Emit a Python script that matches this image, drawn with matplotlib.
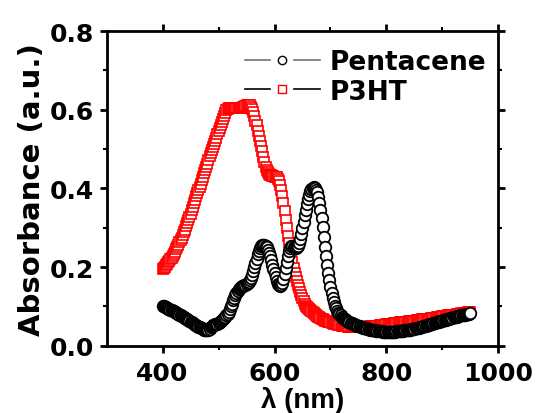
import numpy as np
import matplotlib
matplotlib.use("Agg")
import matplotlib.pyplot as plt
from matplotlib.lines import Line2D
from matplotlib.legend_handler import HandlerBase

wavelength = list(range(400, 951, 2))

pentacene = [
    0.102, 0.101, 0.099, 0.098, 0.096, 0.094, 0.093, 0.091, 0.090, 0.088,
    0.087, 0.085, 0.084, 0.082, 0.080, 0.079, 0.077, 0.076, 0.074, 0.072,
    0.071, 0.069, 0.067, 0.065, 0.063, 0.061, 0.059, 0.057, 0.055, 0.053,
    0.052, 0.050, 0.048, 0.047, 0.045, 0.044, 0.042, 0.041, 0.040, 0.039,
    0.039, 0.040, 0.043, 0.047, 0.050, 0.052, 0.053, 0.054, 0.055, 0.056,
    0.058, 0.060, 0.062, 0.065, 0.068, 0.071, 0.074, 0.077, 0.081, 0.086,
    0.093, 0.100, 0.107, 0.115, 0.122, 0.129, 0.135, 0.140, 0.144, 0.147,
    0.150, 0.152, 0.153, 0.154, 0.155, 0.157, 0.159, 0.162, 0.166, 0.172,
    0.180, 0.189, 0.199, 0.210, 0.221, 0.232, 0.241, 0.248, 0.253, 0.256,
    0.257, 0.256, 0.254, 0.250, 0.244, 0.236, 0.227, 0.217, 0.206, 0.195,
    0.184, 0.174, 0.165, 0.158, 0.154, 0.153, 0.155, 0.160, 0.170, 0.183,
    0.198, 0.214, 0.229, 0.241, 0.249, 0.253, 0.254, 0.252, 0.250, 0.249,
    0.250, 0.254, 0.261, 0.271, 0.284, 0.299, 0.315, 0.331, 0.346, 0.360,
    0.373, 0.384, 0.393, 0.399, 0.402, 0.403, 0.401, 0.397, 0.390, 0.379,
    0.364, 0.346, 0.325, 0.302, 0.277, 0.252, 0.228, 0.206, 0.185, 0.166,
    0.150, 0.135, 0.122, 0.111, 0.102, 0.095, 0.089, 0.084, 0.080, 0.077,
    0.074, 0.071, 0.069, 0.067, 0.065, 0.063, 0.061, 0.060, 0.058, 0.057,
    0.055, 0.054, 0.053, 0.052, 0.051, 0.050, 0.049, 0.048, 0.047, 0.046,
    0.045, 0.044, 0.044, 0.043, 0.042, 0.041, 0.041, 0.040, 0.040, 0.039,
    0.039, 0.038, 0.038, 0.038, 0.037, 0.037, 0.037, 0.036, 0.036, 0.036,
    0.036, 0.036, 0.036, 0.036, 0.036, 0.036, 0.036, 0.036, 0.036, 0.037,
    0.037, 0.037, 0.037, 0.038, 0.038, 0.038, 0.039, 0.039, 0.040, 0.040,
    0.041, 0.041, 0.042, 0.042, 0.043, 0.043, 0.044, 0.045, 0.045, 0.046,
    0.047, 0.048, 0.048, 0.049, 0.050, 0.051, 0.052, 0.053, 0.053, 0.054,
    0.055, 0.056, 0.057, 0.058, 0.059, 0.059, 0.060, 0.061, 0.062, 0.063,
    0.064, 0.065, 0.066, 0.066, 0.067, 0.068, 0.069, 0.070, 0.071, 0.071,
    0.072, 0.073, 0.074, 0.074, 0.075, 0.076, 0.077, 0.077, 0.078, 0.079,
    0.079, 0.080, 0.080, 0.081, 0.081, 0.082,
]

p3ht = [
    0.195, 0.198, 0.201, 0.205, 0.208, 0.212, 0.216, 0.220, 0.224, 0.229,
    0.234, 0.239, 0.245, 0.251, 0.257, 0.263, 0.269, 0.275, 0.282, 0.288,
    0.295, 0.303, 0.311, 0.319, 0.327, 0.335, 0.344, 0.353, 0.362, 0.371,
    0.380, 0.388, 0.396, 0.404, 0.412, 0.420, 0.429, 0.438, 0.446, 0.455,
    0.463, 0.472, 0.481, 0.489, 0.497, 0.505, 0.513, 0.521, 0.529, 0.537,
    0.545, 0.553, 0.561, 0.569, 0.577, 0.585, 0.592, 0.598, 0.602, 0.604,
    0.605, 0.605, 0.605, 0.605, 0.605, 0.605, 0.605, 0.604, 0.604, 0.603,
    0.603, 0.604, 0.606, 0.608, 0.610, 0.611, 0.612, 0.612, 0.611, 0.608,
    0.602, 0.594, 0.584, 0.572, 0.560, 0.547, 0.534, 0.521, 0.508, 0.494,
    0.480, 0.467, 0.455, 0.447, 0.441, 0.437, 0.435, 0.433, 0.432, 0.431,
    0.430, 0.429, 0.428, 0.425, 0.418, 0.408, 0.395, 0.380, 0.362, 0.342,
    0.320, 0.300, 0.280, 0.261, 0.243, 0.227, 0.212, 0.198, 0.186, 0.175,
    0.165, 0.155, 0.146, 0.137, 0.128, 0.120, 0.113, 0.107, 0.102, 0.099,
    0.096, 0.093, 0.090, 0.087, 0.085, 0.082, 0.080, 0.078, 0.076, 0.074,
    0.072, 0.070, 0.069, 0.067, 0.066, 0.064, 0.063, 0.062, 0.061, 0.060,
    0.059, 0.058, 0.057, 0.056, 0.055, 0.055, 0.054, 0.053, 0.053, 0.052,
    0.051, 0.051, 0.050, 0.050, 0.049, 0.049, 0.048, 0.048, 0.048, 0.048,
    0.047, 0.047, 0.047, 0.047, 0.047, 0.047, 0.047, 0.047, 0.047, 0.047,
    0.048, 0.048, 0.048, 0.048, 0.048, 0.049, 0.049, 0.049, 0.050, 0.050,
    0.050, 0.051, 0.051, 0.051, 0.052, 0.052, 0.052, 0.053, 0.053, 0.053,
    0.054, 0.054, 0.055, 0.055, 0.055, 0.056, 0.056, 0.057, 0.057, 0.057,
    0.058, 0.058, 0.059, 0.059, 0.059, 0.060, 0.060, 0.061, 0.061, 0.061,
    0.062, 0.062, 0.063, 0.063, 0.063, 0.064, 0.064, 0.065, 0.065, 0.065,
    0.066, 0.066, 0.067, 0.067, 0.067, 0.068, 0.068, 0.069, 0.069, 0.069,
    0.070, 0.070, 0.071, 0.071, 0.071, 0.072, 0.072, 0.073, 0.073, 0.074,
    0.075, 0.075, 0.075, 0.076, 0.076, 0.077, 0.077, 0.077, 0.078, 0.078,
    0.079, 0.079, 0.079, 0.080, 0.080, 0.081, 0.081, 0.082, 0.082, 0.083,
    0.083, 0.084, 0.084, 0.085, 0.085, 0.086,
]

series_names = ["Pentacene", "P3HT"]
x_ticks = [400, 600, 800, 1000]
y_ticks = [0.0, 0.2, 0.4, 0.6, 0.8]

plt.rcParams['font.family'] = ['DejaVu Sans']
plt.rcParams['font.weight'] = 'bold'

fig = plt.figure(figsize=(5.36, 4.14), dpi=100)
ax = fig.add_axes([0.199, 0.1626, 0.7307, 0.7601])

ax.plot(wavelength, p3ht, linestyle='none', marker='s', ms=7.0, mfc='white',
        mec='red', mew=1.2, zorder=2)
ax.plot(wavelength, pentacene, linestyle='none', marker='o', ms=8.3, mfc='white',
        mec='black', mew=1.3, zorder=3)

ax.set_xlim(300, 1000)
ax.set_ylim(0, 0.8)
ax.set_xticks(x_ticks)
ax.set_yticks(y_ticks)
ax.set_xticklabels([str(v) for v in x_ticks])
ax.set_yticklabels([f"{v:.1f}" for v in y_ticks])
ax.set_xticks([500, 700, 900], minor=True)
ax.set_yticks([0.1, 0.3, 0.5, 0.7], minor=True)

for s in ax.spines.values():
    s.set_linewidth(2.0)
ax.tick_params(which='major', direction='out', length=5, width=2,
               labelsize=18, pad=4, top=True, right=True)
ax.tick_params(which='minor', direction='out', length=3, width=1.5,
               top=True, right=True)
ax.tick_params(which='both', labeltop=False, labelright=False)
ax.tick_params(axis='x', which='major', pad=6)

ax.set_ylabel("Absorbance (a.u.)", fontsize=21, fontweight='bold', labelpad=3)
ax.set_xlabel("λ (nm)", fontsize=20, fontweight='bold', labelpad=0.5,
              family=['Liberation Sans'])


class GapHandler(HandlerBase):
    def __init__(self, line_color, marker, mec):
        super().__init__()
        self.line_color = line_color
        self.marker = marker
        self.mec = mec

    def create_artists(self, legend, orig_handle, xdescent, ydescent,
                       width, height, fontsize, trans):
        x0 = -xdescent
        y = (height - ydescent) / 2.0
        l1 = Line2D([x0, x0 + 0.34 * width], [y, y], color=self.line_color, lw=1.2)
        l2 = Line2D([x0 + 0.66 * width, x0 + width], [y, y], color=self.line_color, lw=1.2)
        m = Line2D([x0 + 0.5 * width], [y], linestyle='none', marker=self.marker,
                   ms=6, mfc='white', mec=self.mec, mew=1.0)
        for a in (l1, l2, m):
            a.set_transform(trans)
        return [l1, l2, m]


h1 = Line2D([], [], color='black')
h2 = Line2D([], [], color='red')
leg = ax.legend([h1, h2], series_names,
                handler_map={h1: GapHandler('#707070', 'o', 'black'),
                             h2: GapHandler('black', 's', 'red')},
                loc='upper right', bbox_to_anchor=(0.995, 0.975), frameon=False,
                fontsize=19, handlelength=2.85, handletextpad=0.35,
                labelspacing=0.12, borderaxespad=0.0)
for t in leg.get_texts():
    t.set_fontweight('bold')

fig.savefig("out.png", dpi=100)
